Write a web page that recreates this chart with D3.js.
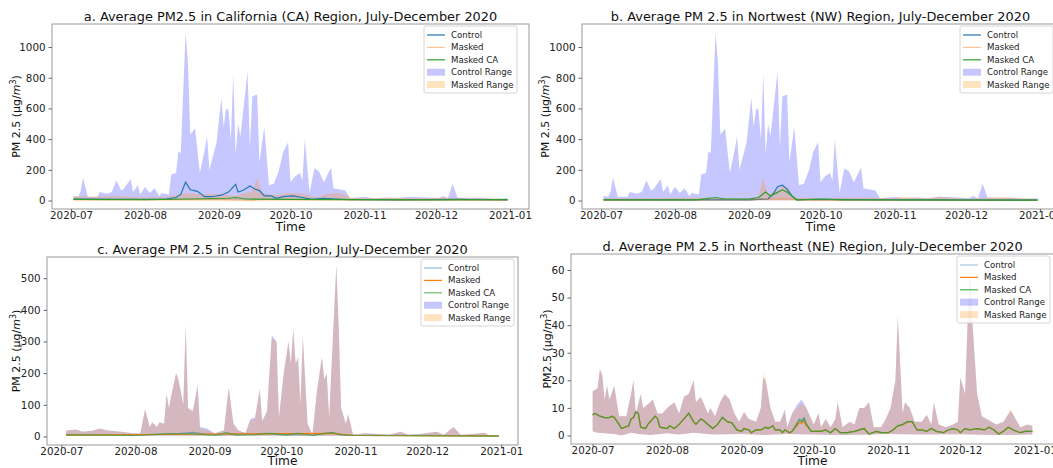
<!DOCTYPE html>
<html>
<head>
<meta charset="utf-8">
<script src="https://cdn.jsdelivr.net/npm/d3@7"></script>
<style>
  body { margin: 0; background: #fff; }
  svg { display: block; font-family: "DejaVu Sans", sans-serif; }
</style>
</head>
<body>
<div id="chart"></div>
<script>
// ---- data (dates are MM-DD in 2020) ----
const titles = [
  "a. Average PM2.5 in California (CA) Region, July-December 2020",
  "b. Average PM 2.5 in Nortwest (NW) Region, July-December 2020",
  "c. Average PM 2.5 in Central Region, July-December 2020",
  "d. Average PM 2.5 in Northeast (NE) Region, July-December 2020"
];
const yLabels = ["PM 2.5 (µg/", "PM 2.5 (µg/", "PM 2.5 (µg/", "PM2.5 (µg/"];
const legendNames = ["Control", "Masked", "Masked CA", "Control Range", "Masked Range"];
const monthTicks = ["2020-07-01", "2020-08-01", "2020-09-01", "2020-10-01", "2020-11-01", "2020-12-01", "2021-01-01"];
const yTicksAB = [0, 200, 400, 600, 800, 1000];
const yTicksC = [0, 100, 200, 300, 400, 500];
const yTicksD = [0, 10, 20, 30, 40, 50, 60];

// a. California
const caCtrlHi = [["07-02",30],["07-04",25],["07-05",60],["07-06",148],["07-08",25],["07-12",25],["07-13",55],["07-16",45],["07-18",55],["07-20",130],["07-22",65],["07-23",75],["07-26",140],["07-27",55],["07-29",100],["07-30",40],["08-01",90],["08-03",50],["08-05",80],["08-07",30],["08-08",50],["08-11",40],["08-12",170],["08-14",180],["08-15",320],["08-16",310],["08-18",1095],["08-19",900],["08-20",430],["08-22",470],["08-24",180],["08-26",330],["08-27",420],["08-28",200],["08-31",380],["09-02",670],["09-03",480],["09-04",600],["09-05",590],["09-06",400],["09-07",830],["09-08",300],["09-09",500],["09-10",420],["09-13",840],["09-14",350],["09-15",680],["09-17",690],["09-18",250],["09-20",480],["09-22",100],["09-24",110],["09-26",190],["09-28",320],["09-30",380],["10-01",120],["10-03",160],["10-05",180],["10-06",130],["10-07",400],["10-09",50],["10-11",210],["10-13",190],["10-15",120],["10-18",215],["10-19",80],["10-24",65],["10-26",15],["11-01",25],["11-05",15],["11-10",20],["11-15",15],["11-20",25],["11-28",20],["12-02",15],["12-04",30],["12-06",15],["12-08",110],["12-10",20],["12-15",15],["12-20",18],["12-25",12],["12-31",15]];
const caCtrlLo = [["07-02",5],["08-15",5],["09-10",3],["10-15",3],["12-31",2]];
const caMaskHi = [["07-02",30],["07-10",25],["07-20",30],["08-01",20],["08-10",25],["08-15",40],["08-19",50],["08-25",40],["09-01",45],["09-07",30],["09-12",50],["09-15",60],["09-17",150],["09-19",50],["09-24",35],["09-28",45],["10-03",50],["10-08",40],["10-12",20],["10-16",45],["10-22",50],["10-26",20],["11-05",15],["11-15",20],["11-25",15],["12-05",20],["12-15",15],["12-31",12]];
const caMaskLo = [["07-02",2],["12-31",1]];
const caCtrl = [["07-02",10],["07-20",8],["08-01",8],["08-10",10],["08-14",20],["08-16",40],["08-18",120],["08-20",70],["08-23",60],["08-26",25],["08-29",25],["09-02",35],["09-05",55],["09-08",105],["09-09",55],["09-11",65],["09-14",95],["09-16",75],["09-18",65],["09-20",30],["09-23",30],["09-25",15],["09-28",25],["10-02",30],["10-06",20],["10-10",8],["10-15",15],["10-20",10],["10-25",6],["11-15",5],["12-10",8],["12-31",5]];
const caMask = [["07-02",5],["08-01",4],["09-01",5],["09-10",2],["09-15",0],["09-18",5],["10-15",4],["12-31",3]];
const caMaskCA = [["07-02",8],["08-01",6],["08-20",10],["09-05",15],["09-08",20],["09-12",10],["10-01",8],["11-01",6],["12-01",5],["12-31",6]];

// b. Northwest (control range is the same as in a)
const nwCtrlHi = caCtrlHi;
const nwCtrlLo = [["07-02",3],["12-31",2]];
const nwMaskHi = [["07-02",15],["07-20",15],["08-10",20],["08-15",15],["09-01",15],["09-05",25],["09-07",150],["09-09",40],["09-12",60],["09-15",95],["09-17",90],["09-20",20],["10-01",15],["10-20",20],["11-01",15],["11-05",25],["11-15",15],["11-20",25],["12-01",10],["12-15",25],["12-20",20],["12-31",10]];
const nwMaskLo = [["07-02",1],["12-31",1]];
const nwCtrl = [["07-02",5],["08-01",5],["09-01",5],["09-09",10],["09-11",40],["09-13",90],["09-15",100],["09-17",75],["09-19",30],["09-21",5],["10-01",8],["11-01",4],["12-31",3]];
const nwMask = [["07-02",3],["09-01",5],["09-10",10],["09-18",10],["09-22",3],["12-31",2]];
const nwMaskCA = [["07-02",5],["08-10",5],["08-18",20],["08-22",10],["09-01",10],["09-05",20],["09-08",55],["09-10",30],["09-12",45],["09-15",70],["09-17",55],["09-19",30],["09-21",5],["10-01",10],["10-10",5],["11-01",4],["12-31",3]];

// c. Central
const ceCtrlHi = [["07-03",18],["07-04",20],["07-07",22],["07-10",15],["07-14",18],["07-17",25],["07-20",20],["07-22",18],["07-26",15],["07-31",10],["08-03",10],["08-05",85],["08-07",30],["08-08",45],["08-10",30],["08-11",45],["08-13",40],["08-14",135],["08-15",90],["08-16",130],["08-18",200],["08-19",180],["08-21",100],["08-22",350],["08-23",90],["08-25",80],["08-27",165],["08-28",30],["08-31",25],["09-03",10],["09-07",20],["09-09",155],["09-11",40],["09-13",20],["09-16",10],["09-18",55],["09-20",60],["09-22",150],["09-23",50],["09-25",80],["09-27",320],["09-29",300],["09-30",60],["10-02",200],["10-04",300],["10-05",230],["10-06",340],["10-07",230],["10-08",250],["10-09",100],["10-10",315],["10-12",40],["10-14",5],["10-16",150],["10-18",250],["10-19",180],["10-20",200],["10-21",60],["10-24",540],["10-25",350],["10-26",90],["10-28",40],["10-29",70],["10-31",5],["11-05",10],["11-10",8],["11-15",5],["11-20",15],["11-23",5],["11-28",8],["12-05",15],["12-08",5],["12-12",30],["12-15",5],["12-20",8],["12-25",12],["12-27",3],["12-31",3]];
const ceMaskHi = [["07-03",18],["07-04",20],["07-07",22],["07-10",15],["07-14",18],["07-17",25],["07-20",20],["07-22",18],["07-26",15],["07-31",10],["08-03",10],["08-05",85],["08-07",30],["08-08",45],["08-10",30],["08-11",45],["08-13",40],["08-14",135],["08-15",90],["08-16",130],["08-18",200],["08-19",180],["08-21",100],["08-22",350],["08-23",90],["08-25",80],["08-27",155],["08-28",25],["08-31",20],["09-03",10],["09-07",20],["09-09",155],["09-11",40],["09-13",20],["09-16",10],["09-18",50],["09-20",55],["09-22",150],["09-23",50],["09-25",75],["09-27",310],["09-29",300],["09-30",60],["10-02",200],["10-04",300],["10-05",230],["10-06",340],["10-07",230],["10-08",250],["10-09",100],["10-10",315],["10-12",40],["10-14",5],["10-16",150],["10-18",250],["10-19",180],["10-20",200],["10-21",60],["10-24",540],["10-25",350],["10-26",90],["10-28",40],["10-29",70],["10-31",5],["11-05",10],["11-10",8],["11-15",5],["11-20",15],["11-23",5],["11-28",8],["12-05",15],["12-08",5],["12-12",30],["12-15",5],["12-20",8],["12-25",12],["12-27",3],["12-31",3]];
const ceLo = [["07-03",3],["08-01",2],["10-01",2],["12-31",1]];
const ceCtrl = [["07-03",5],["08-01",4],["08-20",10],["08-25",13],["08-30",8],["09-05",5],["09-15",10],["09-20",8],["09-25",10],["10-01",5],["10-15",6],["10-22",12],["10-28",4],["12-31",2]];
const ceMask = [["07-03",4],["08-20",7],["09-15",8],["10-22",10],["11-01",3],["12-31",2]];
const ceMaskCA = [["07-03",5],["07-20",4],["08-01",3],["08-15",8],["08-25",8],["09-03",3],["09-08",12],["09-12",4],["09-20",6],["09-27",10],["10-03",5],["10-08",10],["10-14",3],["10-18",8],["10-22",12],["10-26",5],["11-01",3],["12-31",1]];

// d. Northeast
const neCtrlHi = [["07-01",16],["07-03",17],["07-04",24],["07-05",22],["07-06",13],["07-07",18],["07-08",13],["07-10",18],["07-12",7],["07-15",7],["07-17",15],["07-18",20],["07-19",8],["07-21",15],["07-22",10],["07-25",12],["07-26",13],["07-28",8],["07-30",8],["08-01",10],["08-04",12],["08-06",8],["08-08",14],["08-10",15],["08-12",20],["08-13",12],["08-15",14],["08-18",8],["08-19",10],["08-21",7],["08-23",12],["08-25",15],["08-27",13],["08-29",8],["08-31",5],["09-02",8.5],["09-04",6],["09-07",5],["09-09",10],["09-10",21],["09-11",20],["09-13",10],["09-15",5],["09-17",5],["09-19",9.5],["09-20",3],["09-22",8],["09-24",11],["09-26",13],["09-28",10],["10-01",4],["10-03",8],["10-04",3],["10-06",6],["10-08",3],["10-10",6],["10-11",12],["10-13",3],["10-16",5],["10-18",4],["10-20",10],["10-22",10],["10-24",12],["10-26",3],["10-29",3],["10-31",6],["11-02",10],["11-04",20],["11-05",43],["11-07",8],["11-08",12],["11-10",10],["11-12",5],["11-15",5],["11-17",7.5],["11-19",4],["11-20",12],["11-22",4],["11-25",3],["11-28",4],["11-30",5],["12-01",21],["12-03",15],["12-04",40],["12-05",62],["12-06",42],["12-08",15],["12-10",7],["12-14",5],["12-16",4],["12-19",5],["12-22",9],["12-24",6],["12-26",3],["12-29",4],["12-31",3.5]];
const neMaskHi = [["07-01",16],["07-03",17],["07-04",24],["07-05",22],["07-06",13],["07-07",18],["07-08",13],["07-10",18],["07-12",7],["07-15",7],["07-17",15],["07-18",20],["07-19",8],["07-21",15],["07-22",10],["07-25",12],["07-26",13],["07-28",8],["07-30",8],["08-01",10],["08-04",12],["08-06",8],["08-08",14],["08-10",15],["08-12",20],["08-13",12],["08-15",14],["08-18",8],["08-19",10],["08-21",7],["08-23",12],["08-25",15],["08-27",13],["08-29",8],["08-31",5],["09-02",8.5],["09-04",6],["09-07",5],["09-09",10],["09-10",22.5],["09-11",20],["09-13",10],["09-15",5],["09-17",5],["09-19",8.5],["09-20",3],["09-22",8],["09-24",10],["09-26",11.5],["09-28",10],["10-01",4],["10-03",8],["10-04",3],["10-06",6],["10-08",3],["10-10",6],["10-11",12],["10-13",3],["10-16",5],["10-18",4],["10-20",10],["10-22",10],["10-24",12],["10-26",3],["10-29",3],["10-31",6],["11-02",10],["11-04",20],["11-05",43],["11-07",8],["11-08",12],["11-10",10],["11-12",5],["11-15",5],["11-17",7.5],["11-19",4],["11-20",12],["11-22",4],["11-25",3],["11-28",4],["11-30",5],["12-01",21],["12-03",15],["12-04",40],["12-05",62],["12-06",42],["12-08",15],["12-10",7],["12-14",5],["12-16",4],["12-19",5],["12-22",9.5],["12-24",6],["12-26",3],["12-29",4],["12-31",3.5]];
const neLo = [["07-01",1.5],["07-03",1],["07-06",0.8],["07-10",0.5],["07-13",0],["07-17",1],["07-20",0.5],["07-25",0.2],["08-01",0.8],["08-06",0.3],["08-12",1],["08-20",0.3],["09-01",0.5],["09-10",0.2],["09-20",0.5],["10-01",0.3],["10-15",0.2],["11-01",0.5],["11-15",0.3],["12-01",0.4],["12-15",0.2],["12-31",0.3]];
const neMaskCA = [["07-01",7.5],["07-02",8],["07-04",7],["07-06",6.5],["07-08",6.5],["07-09",7],["07-10",6.5],["07-12",4],["07-13",2.5],["07-16",3.5],["07-17",6],["07-18",6.5],["07-19",8.5],["07-20",8],["07-21",3],["07-23",2.5],["07-24",4],["07-25",5],["07-27",7],["07-28",6],["07-29",3],["08-01",2.5],["08-02",3.5],["08-04",2.5],["08-06",4],["08-08",6],["08-10",8],["08-12",5],["08-13",4],["08-15",6],["08-16",5.5],["08-18",4],["08-20",2.5],["08-22",4],["08-24",6.5],["08-26",5],["08-28",4.5],["08-30",2],["09-01",1.5],["09-02",2.5],["09-04",2],["09-05",1],["09-07",2],["09-09",2],["09-11",3],["09-12",2.5],["09-14",3.5],["09-15",2],["09-17",2],["09-18",1],["09-19",2],["09-21",1],["09-22",1.5],["09-24",4],["09-25",5.5],["09-26",5],["09-27",6],["09-28",4],["09-30",1.5],["10-01",1.5],["10-04",1.5],["10-06",2],["10-08",1],["10-10",2.5],["10-12",1],["10-15",1],["10-18",1.5],["10-20",2],["10-22",2.5],["10-24",0.5],["10-27",1.5],["10-29",1],["11-01",1],["11-03",2],["11-05",3.5],["11-07",4],["11-09",5],["11-11",5],["11-13",2],["11-15",2],["11-17",1.5],["11-19",2.5],["11-21",1.5],["11-24",1],["11-26",2],["11-28",2.5],["11-30",2],["12-01",1],["12-03",2.5],["12-05",2],["12-08",2.5],["12-11",2],["12-13",3],["12-15",2],["12-17",0.5],["12-19",1.5],["12-21",3],["12-23",2],["12-26",1],["12-28",1.5],["12-31",1.5]];
const neCtrl = [["07-01",7.5],["07-02",8],["07-04",7],["07-06",6.5],["07-08",6.5],["07-09",7],["07-10",6.5],["07-12",4],["07-13",2.5],["07-16",3.5],["07-17",6],["07-18",6.5],["07-19",8.8],["07-20",8],["07-21",3],["07-23",2.5],["07-24",4],["07-25",5],["07-27",7],["07-28",6],["07-29",3],["08-01",2.5],["08-02",3.5],["08-04",2.5],["08-06",4],["08-08",6],["08-10",8],["08-12",5],["08-13",4],["08-15",6],["08-16",5.5],["08-18",4],["08-20",2.5],["08-22",4],["08-24",6.8],["08-26",5],["08-28",4.5],["08-30",2],["09-01",1.5],["09-02",2.5],["09-04",2],["09-05",1],["09-07",2],["09-09",2],["09-11",3],["09-12",2.5],["09-14",3.5],["09-15",2],["09-17",2],["09-18",1],["09-19",2],["09-21",1],["09-22",1.5],["09-24",4.5],["09-25",6],["09-26",5.5],["09-27",6.5],["09-28",4],["09-30",1.5],["10-01",1.5],["10-04",1.5],["10-06",2],["10-08",1],["10-10",2.5],["10-12",1],["10-15",1],["10-18",1.5],["10-20",2],["10-22",2.5],["10-24",0.5],["10-27",1.5],["10-29",1],["11-01",1],["11-03",2],["11-05",3.5],["11-07",4],["11-09",5],["11-11",5],["11-13",2],["11-15",2],["11-17",1.5],["11-19",2.5],["11-21",1.5],["11-24",1],["11-26",2],["11-28",2.5],["11-30",2],["12-01",1],["12-03",2.5],["12-05",2],["12-08",2.5],["12-11",2],["12-13",3],["12-15",2],["12-17",0.5],["12-19",1.5],["12-21",3],["12-23",2],["12-26",1],["12-28",1.5],["12-31",1.5]];
const neMask = [["07-01",7.5],["07-02",8],["07-04",7],["07-06",6.5],["07-08",6.5],["07-09",7],["07-10",6.5],["07-12",4],["07-13",2.5],["07-16",3.5],["07-17",6],["07-18",6.5],["07-19",8.5],["07-20",8],["07-21",3],["07-23",2.5],["07-24",4],["07-25",5],["07-27",7],["07-28",6],["07-29",3],["08-01",2.5],["08-02",3.5],["08-04",2.5],["08-06",4],["08-08",6],["08-10",8],["08-12",5],["08-13",4],["08-15",6],["08-16",5.5],["08-18",4],["08-20",2.5],["08-22",4],["08-24",6.5],["08-26",5],["08-28",4.5],["08-30",2],["09-01",1.5],["09-02",2.5],["09-04",2],["09-05",1],["09-07",2],["09-09",2],["09-11",3],["09-12",2.5],["09-14",3.5],["09-15",2],["09-17",2],["09-18",1],["09-19",2],["09-21",1],["09-22",1.5],["09-24",3.5],["09-25",4.5],["09-26",4.5],["09-27",5],["09-28",3.5],["09-30",1.5],["10-01",1.5],["10-04",1.5],["10-06",2],["10-08",1],["10-10",2.5],["10-12",1],["10-15",1],["10-18",1.5],["10-20",2],["10-22",2.5],["10-24",0.5],["10-27",1.5],["10-29",1],["11-01",1],["11-03",2],["11-05",3.5],["11-07",3.8],["11-09",4.8],["11-11",5],["11-13",2],["11-15",2],["11-17",1.5],["11-19",2.5],["11-21",1.5],["11-24",1],["11-26",2],["11-28",2.5],["11-30",2],["12-01",1],["12-03",2.5],["12-05",2],["12-08",2.5],["12-11",2],["12-13",3],["12-15",2],["12-17",0.5],["12-19",1.5],["12-21",3],["12-23",2],["12-26",1],["12-28",1.5],["12-31",1.5]];

// ---- layout ----
const W = 1053, H = 468;
const parse = d3.timeParse("%Y-%m-%d");
const toPts = arr => arr.map(([md, v]) => ({ date: parse("2020-" + md), v }));

const C_BLUE = "#1f77b4", C_ORANGE = "#ff7f0e", C_GREEN = "#2ca02c";
const FILL_CTRL = "#0000ff", FILL_MASK = "#ff8c00";

const panels = [
  { title: titles[0], ylab: yLabels[0], box: [52, 529, 24, 209], xDom: ["2020-06-23", "2021-01-09"], yDom: [-55, 1150], yTicks: yTicksAB, ylabX: 17, legRight: 517, timeDy: 22,
    ctrlHi: caCtrlHi, ctrlLo: caCtrlLo, maskHi: caMaskHi, maskLo: caMaskLo, ctrl: caCtrl, mask: caMask, maskCA: caMaskCA, op: [1, 0.45, 1] },
  { title: titles[1], ylab: yLabels[1], box: [582, 1059, 24, 209], xDom: ["2020-06-23", "2021-01-09"], yDom: [-55, 1150], yTicks: yTicksAB, ylabX: 546, legRight: 1053, timeDy: 22,
    ctrlHi: nwCtrlHi, ctrlLo: nwCtrlLo, maskHi: nwMaskHi, maskLo: nwMaskLo, ctrl: nwCtrl, mask: nwMask, maskCA: nwMaskCA, op: [1, 0.45, 1] },
  { title: titles[2], ylab: yLabels[2], box: [47, 518, 257, 445], xDom: ["2020-06-25", "2021-01-08"], yDom: [-27, 567], yTicks: yTicksC, ylabX: 17, legRight: 514, timeDy: 20,
    ctrlHi: ceCtrlHi, ctrlLo: ceLo, maskHi: ceMaskHi, maskLo: ceLo, ctrl: ceCtrl, mask: ceMask, maskCA: ceMaskCA, op: [0.5, 1, 0.7] },
  { title: titles[3], ylab: yLabels[3], box: [571, 1054, 254, 444], xDom: ["2020-06-22", "2021-01-09"], yDom: [-3.1, 65.8], yTicks: yTicksD, ylabX: 548, legRight: 1050, timeDy: 20.5,
    ctrlHi: neCtrlHi, ctrlLo: neLo, maskHi: neMaskHi, maskLo: neLo, ctrl: neCtrl, mask: neMask, maskCA: neMaskCA, op: [0.4, 1, 0.85] }
];

const svg = d3.select("#chart").append("svg")
  .attr("width", W).attr("height", H)
  .style("background", "#fff");

panels.forEach((p, i) => {
  const [x0, x1, y0, y1] = p.box;
  const x = d3.scaleTime().domain(p.xDom.map(parse)).range([x0, x1]);
  const y = d3.scaleLinear().domain(p.yDom).range([y1, y0]);
  const g = svg.append("g");

  g.append("clipPath").attr("id", "clip" + i)
    .append("rect").attr("x", x0).attr("y", y0).attr("width", x1 - x0).attr("height", y1 - y0);
  const plot = g.append("g").attr("clip-path", `url(#clip${i})`);

  const line = d3.line().x(d => x(d.date)).y(d => y(d.v));
  const band = (hi, lo) => line(toPts(hi).concat(toPts(lo).reverse())) + "Z";

  // ranges
  plot.append("path").attr("d", band(p.ctrlHi, p.ctrlLo))
    .attr("fill", FILL_CTRL).attr("fill-opacity", 0.22);
  plot.append("path").attr("d", band(p.maskHi, p.maskLo))
    .attr("fill", FILL_MASK).attr("fill-opacity", 0.25);

  // mean lines
  [[p.ctrl, C_BLUE, p.op[0]], [p.mask, C_ORANGE, p.op[1]], [p.maskCA, C_GREEN, p.op[2]]].forEach(([s, c, o]) => {
    plot.append("path").attr("d", line(toPts(s)))
      .attr("fill", "none").attr("stroke", c).attr("stroke-opacity", o).attr("stroke-width", 1.2);
  });

  // frame
  g.append("rect").attr("x", x0).attr("y", y0).attr("width", x1 - x0).attr("height", y1 - y0)
    .attr("fill", "none").attr("stroke", "#999").attr("stroke-width", 1);

  // axes
  const xAxis = d3.axisBottom(x).tickValues(monthTicks.map(parse))
    .tickFormat(d3.timeFormat("%Y-%m")).tickSizeOuter(0).tickSize(3).tickPadding(-0.5);
  const gx = g.append("g").attr("transform", `translate(0,${y1})`).call(xAxis);
  const yAxis = d3.axisLeft(y).tickValues(p.yTicks).tickFormat(d3.format("d"))
    .tickSizeOuter(0).tickSize(3.5).tickPadding(3);
  const gy = g.append("g").attr("transform", `translate(${x0},0)`).call(yAxis);
  [gx, gy].forEach(ax => {
    ax.select(".domain").remove();
    ax.selectAll("line").attr("stroke", "#666");
    ax.selectAll("text").attr("fill", "#222").style("font-size", "10.3px").style("font-family", "DejaVu Sans");
  });

  // title and axis labels
  g.append("text").attr("x", (x0 + x1) / 2).attr("y", y0 - 3)
    .attr("text-anchor", "middle").attr("fill", "#111").style("font-size", "12.9px")
    .text(p.title);
  g.append("text").attr("x", (x0 + x1) / 2).attr("y", y1 + p.timeDy)
    .attr("text-anchor", "middle").attr("fill", "#111").style("font-size", "12.2px")
    .text("Time");
  const yl = g.append("text")
    .attr("transform", `translate(${p.ylabX},${(y0 + y1) / 2}) rotate(-90)`)
    .attr("text-anchor", "middle").attr("dominant-baseline", "middle")
    .attr("fill", "#111").style("font-size", "11px");
  yl.append("tspan").text(p.ylab);
  yl.append("tspan").attr("font-style", "italic").text("m");
  yl.append("tspan").attr("dy", -4).style("font-size", "8px").text("3");
  yl.append("tspan").attr("dy", 4).text(")");

  // legend (upper right)
  const lw = 93, lh = 67, lx = p.legRight - lw, ly = y0 + 2;
  const lg = g.append("g").attr("transform", `translate(${lx},${ly})`);
  lg.append("rect").attr("width", lw).attr("height", lh).attr("rx", 2)
    .attr("fill", "#fff").attr("fill-opacity", 0.85).attr("stroke", "#ccc").attr("stroke-width", 0.8);
  const lineCols = [[C_BLUE, p.op[0]], [C_ORANGE, p.op[1]], [C_GREEN, p.op[2]]];
  legendNames.forEach((name, k) => {
    const cy = 9 + k * 12.4;
    if (k < 3) {
      lg.append("line").attr("x1", 3).attr("x2", 21).attr("y1", cy).attr("y2", cy)
        .attr("stroke", lineCols[k][0]).attr("stroke-opacity", lineCols[k][1]).attr("stroke-width", 1.2);
    } else {
      lg.append("rect").attr("x", 3).attr("y", cy - 3.5).attr("width", 18).attr("height", 7)
        .attr("fill", k === 3 ? FILL_CTRL : FILL_MASK).attr("fill-opacity", k === 3 ? 0.22 : 0.25);
    }
    lg.append("text").attr("x", 27).attr("y", cy).attr("dominant-baseline", "central")
      .attr("fill", "#222").style("font-size", "8.6px").text(name);
  });
});
</script>
</body>
</html>
